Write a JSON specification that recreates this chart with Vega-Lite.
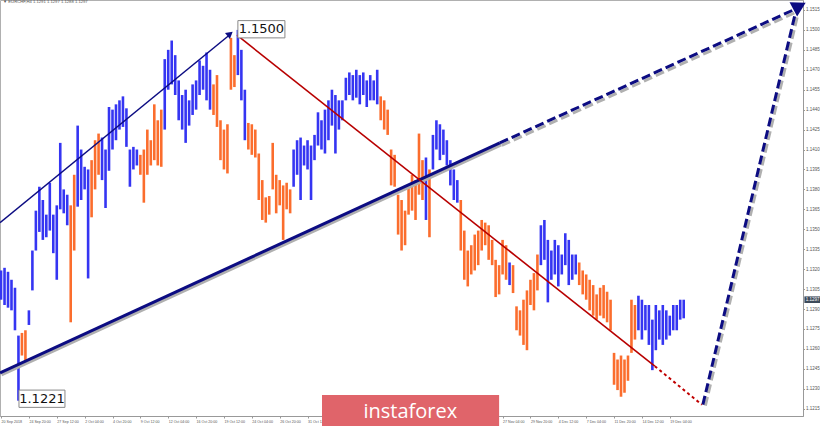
{
"$schema":"https://vega.github.io/schema/vega-lite/v6.json",
"width":803,"height":416,
"autosize":{"type":"none"},
"padding":{"left":0,"top":0,"right":17,"bottom":10},
"background":"white",
"title":{"text":"▼ EURCHF,H4  1.1291 1.1297 1.1288 1.1297","anchor":"start","frame":"group","orient":"top","offset":-8,"dx":3,"fontSize":4.2,"fontWeight":"normal","color":"#555","font":"Liberation Sans","baseline":"bottom"},
"config":{"view":{"stroke":"#b0b0b0"},"axis":{"labelOverlap":false,"labelBound":false}},
"datasets":{
"bars":[
{"b":0,"h":1.1319,"l":1.1297,"c":"u"},{"b":2,"h":1.1321,"l":1.1293,"c":"u"},{"b":4,"h":1.1318,"l":1.1291,"c":"u"},{"b":6,"h":1.1312,"l":1.1289,"c":"u"},{"b":8,"h":1.1306,"l":1.1274,"c":"u"},{"b":10,"h":1.1270,"l":1.1221,"c":"u"},{"b":12,"h":1.1272,"l":1.1255,"c":"d"},{"b":14,"h":1.1274,"l":1.1250,"c":"d"},{"b":16,"h":1.1289,"l":1.1278,"c":"u"},{"b":18,"h":1.1334,"l":1.1304,"c":"u"},
{"b":20,"h":1.1364,"l":1.1334,"c":"u"},{"b":22,"h":1.1382,"l":1.1348,"c":"u"},{"b":24,"h":1.1372,"l":1.1342,"c":"u"},{"b":26,"h":1.1361,"l":1.1344,"c":"u"},{"b":28,"h":1.1385,"l":1.1349,"c":"u"},{"b":30,"h":1.1361,"l":1.1332,"c":"u"},{"b":32,"h":1.1368,"l":1.1312,"c":"u"},{"b":34,"h":1.1415,"l":1.1365,"c":"u"},{"b":36,"h":1.1380,"l":1.1362,"c":"u"},{"b":38,"h":1.1376,"l":1.1353,"c":"u"},
{"b":40,"h":1.1368,"l":1.1280,"c":"d"},{"b":42,"h":1.1391,"l":1.1334,"c":"d"},{"b":44,"h":1.1428,"l":1.1367,"c":"u"},{"b":46,"h":1.1410,"l":1.1372,"c":"u"},{"b":48,"h":1.1397,"l":1.1380,"c":"u"},{"b":50,"h":1.1395,"l":1.1313,"c":"u"},{"b":52,"h":1.1402,"l":1.1359,"c":"d"},{"b":54,"h":1.1417,"l":1.1380,"c":"d"},{"b":56,"h":1.1422,"l":1.1391,"c":"d"},{"b":58,"h":1.1419,"l":1.1387,"c":"u"},
{"b":60,"h":1.1410,"l":1.1366,"c":"u"},{"b":62,"h":1.1442,"l":1.1394,"c":"u"},{"b":64,"h":1.1440,"l":1.1410,"c":"u"},{"b":66,"h":1.1444,"l":1.1417,"c":"u"},{"b":68,"h":1.1447,"l":1.1425,"c":"u"},{"b":70,"h":1.1450,"l":1.1427,"c":"u"},{"b":72,"h":1.1441,"l":1.1412,"c":"u"},{"b":74,"h":1.1410,"l":1.1382,"c":"u"},{"b":76,"h":1.1412,"l":1.1395,"c":"u"},{"b":78,"h":1.1410,"l":1.1398,"c":"u"},
{"b":80,"h":1.1406,"l":1.1391,"c":"d"},{"b":82,"h":1.1410,"l":1.1370,"c":"d"},{"b":84,"h":1.1425,"l":1.1391,"c":"d"},{"b":86,"h":1.1417,"l":1.1398,"c":"d"},{"b":88,"h":1.1444,"l":1.1402,"c":"d"},{"b":90,"h":1.1432,"l":1.1398,"c":"d"},{"b":92,"h":1.1440,"l":1.1397,"c":"d"},{"b":94,"h":1.1478,"l":1.1425,"c":"u"},{"b":96,"h":1.1485,"l":1.1455,"c":"u"},{"b":98,"h":1.1492,"l":1.1459,"c":"u"},
{"b":100,"h":1.1481,"l":1.1451,"c":"u"},{"b":102,"h":1.1462,"l":1.1432,"c":"u"},{"b":104,"h":1.1451,"l":1.1425,"c":"u"},{"b":106,"h":1.1455,"l":1.1415,"c":"u"},{"b":108,"h":1.1447,"l":1.1428,"c":"u"},{"b":110,"h":1.1459,"l":1.1436,"c":"u"},{"b":112,"h":1.1462,"l":1.1440,"c":"u"},{"b":114,"h":1.1477,"l":1.1451,"c":"u"},{"b":116,"h":1.1473,"l":1.1455,"c":"u"},{"b":118,"h":1.1483,"l":1.1447,"c":"u"},
{"b":120,"h":1.1470,"l":1.1440,"c":"u"},{"b":122,"h":1.1459,"l":1.1436,"c":"d"},{"b":124,"h":1.1466,"l":1.1427,"c":"d"},{"b":126,"h":1.1432,"l":1.1402,"c":"d"},{"b":128,"h":1.1425,"l":1.1395,"c":"d"},{"b":130,"h":1.1429,"l":1.1392,"c":"d"},{"b":132,"h":1.1494,"l":1.1455,"c":"d"},{"b":134,"h":1.1481,"l":1.1457,"c":"d"},{"b":136,"h":1.1500,"l":1.1466,"c":"u"},{"b":138,"h":1.1485,"l":1.1447,"c":"u"},
{"b":140,"h":1.1455,"l":1.1417,"c":"u"},{"b":142,"h":1.1430,"l":1.1410,"c":"d"},{"b":144,"h":1.1429,"l":1.1406,"c":"d"},{"b":146,"h":1.1425,"l":1.1404,"c":"d"},{"b":148,"h":1.1407,"l":1.1372,"c":"d"},{"b":150,"h":1.1387,"l":1.1357,"c":"d"},{"b":152,"h":1.1374,"l":1.1355,"c":"d"},{"b":154,"h":1.1375,"l":1.1361,"c":"d"},{"b":156,"h":1.1415,"l":1.1380,"c":"d"},{"b":158,"h":1.1391,"l":1.1362,"c":"d"},
{"b":160,"h":1.1387,"l":1.1368,"c":"d"},{"b":162,"h":1.1383,"l":1.1342,"c":"d"},{"b":164,"h":1.1385,"l":1.1365,"c":"d"},{"b":166,"h":1.1380,"l":1.1362,"c":"d"},{"b":168,"h":1.1410,"l":1.1382,"c":"u"},{"b":170,"h":1.1417,"l":1.1391,"c":"u"},{"b":172,"h":1.1419,"l":1.1372,"c":"u"},{"b":174,"h":1.1413,"l":1.1398,"c":"u"},{"b":176,"h":1.1417,"l":1.1395,"c":"u"},{"b":178,"h":1.1413,"l":1.1372,"c":"u"},
{"b":180,"h":1.1421,"l":1.1402,"c":"u"},{"b":182,"h":1.1438,"l":1.1413,"c":"u"},{"b":184,"h":1.1432,"l":1.1410,"c":"u"},{"b":186,"h":1.1440,"l":1.1407,"c":"u"},{"b":188,"h":1.1447,"l":1.1417,"c":"u"},{"b":190,"h":1.1455,"l":1.1428,"c":"u"},{"b":192,"h":1.1451,"l":1.1407,"c":"u"},{"b":194,"h":1.1447,"l":1.1425,"c":"u"},{"b":196,"h":1.1447,"l":1.1432,"c":"u"},{"b":198,"h":1.1464,"l":1.1447,"c":"u"},
{"b":200,"h":1.1468,"l":1.1451,"c":"u"},{"b":202,"h":1.1466,"l":1.1447,"c":"u"},{"b":204,"h":1.1470,"l":1.1449,"c":"u"},{"b":206,"h":1.1466,"l":1.1444,"c":"u"},{"b":208,"h":1.1468,"l":1.1451,"c":"u"},{"b":210,"h":1.1462,"l":1.1442,"c":"u"},{"b":212,"h":1.1466,"l":1.1447,"c":"u"},{"b":214,"h":1.1462,"l":1.1447,"c":"u"},{"b":216,"h":1.1470,"l":1.1444,"c":"u"},{"b":218,"h":1.1450,"l":1.1432,"c":"d"},
{"b":220,"h":1.1447,"l":1.1425,"c":"d"},{"b":222,"h":1.1440,"l":1.1421,"c":"d"},{"b":224,"h":1.1410,"l":1.1383,"c":"d"},{"b":226,"h":1.1406,"l":1.1382,"c":"d"},{"b":228,"h":1.1376,"l":1.1346,"c":"d"},{"b":230,"h":1.1372,"l":1.1334,"c":"d"},{"b":232,"h":1.1364,"l":1.1338,"c":"d"},{"b":234,"h":1.1383,"l":1.1361,"c":"d"},{"b":236,"h":1.1391,"l":1.1364,"c":"d"},{"b":238,"h":1.1387,"l":1.1357,"c":"d"},
{"b":240,"h":1.1422,"l":1.1376,"c":"d"},{"b":242,"h":1.1402,"l":1.1372,"c":"d"},{"b":244,"h":1.1404,"l":1.1357,"c":"u"},{"b":246,"h":1.1395,"l":1.1344,"c":"d"},{"b":248,"h":1.1421,"l":1.1395,"c":"u"},{"b":250,"h":1.1432,"l":1.1410,"c":"u"},{"b":252,"h":1.1429,"l":1.1402,"c":"u"},{"b":254,"h":1.1425,"l":1.1406,"c":"u"},{"b":256,"h":1.1417,"l":1.1398,"c":"u"},{"b":258,"h":1.1402,"l":1.1383,"c":"u"},
{"b":260,"h":1.1395,"l":1.1372,"c":"u"},{"b":262,"h":1.1387,"l":1.1370,"c":"u"},{"b":264,"h":1.1372,"l":1.1334,"c":"d"},{"b":266,"h":1.1349,"l":1.1312,"c":"d"},{"b":268,"h":1.1334,"l":1.1307,"c":"d"},{"b":270,"h":1.1338,"l":1.1316,"c":"d"},{"b":272,"h":1.1346,"l":1.1319,"c":"d"},{"b":274,"h":1.1349,"l":1.1323,"c":"d"},{"b":276,"h":1.1357,"l":1.1334,"c":"d"},{"b":278,"h":1.1355,"l":1.1338,"c":"d"},
{"b":280,"h":1.1353,"l":1.1327,"c":"d"},{"b":282,"h":1.1342,"l":1.1323,"c":"d"},{"b":284,"h":1.1327,"l":1.1299,"c":"d"},{"b":286,"h":1.1323,"l":1.1301,"c":"d"},{"b":288,"h":1.1342,"l":1.1316,"c":"d"},{"b":290,"h":1.1338,"l":1.1312,"c":"d"},{"b":292,"h":1.1325,"l":1.1308,"c":"u"},{"b":294,"h":1.1323,"l":1.1302,"c":"d"},{"b":296,"h":1.1292,"l":1.1274,"c":"d"},{"b":298,"h":1.1289,"l":1.1270,"c":"d"},
{"b":300,"h":1.1297,"l":1.1263,"c":"d"},{"b":302,"h":1.1304,"l":1.1259,"c":"d"},{"b":304,"h":1.1312,"l":1.1293,"c":"d"},{"b":306,"h":1.1317,"l":1.1289,"c":"d"},{"b":308,"h":1.1331,"l":1.1304,"c":"d"},{"b":310,"h":1.1353,"l":1.1323,"c":"u"},{"b":312,"h":1.1357,"l":1.1327,"c":"u"},{"b":314,"h":1.1342,"l":1.1295,"c":"u"},{"b":316,"h":1.1334,"l":1.1312,"c":"u"},{"b":318,"h":1.1342,"l":1.1316,"c":"u"},
{"b":320,"h":1.1338,"l":1.1307,"c":"u"},{"b":322,"h":1.1331,"l":1.1316,"c":"u"},{"b":324,"h":1.1347,"l":1.1323,"c":"u"},{"b":326,"h":1.1342,"l":1.1308,"c":"u"},{"b":328,"h":1.1331,"l":1.1312,"c":"u"},{"b":330,"h":1.1331,"l":1.1316,"c":"u"},{"b":332,"h":1.1325,"l":1.1308,"c":"d"},{"b":334,"h":1.1319,"l":1.1301,"c":"d"},{"b":336,"h":1.1316,"l":1.1297,"c":"d"},{"b":338,"h":1.1312,"l":1.1289,"c":"d"},
{"b":340,"h":1.1308,"l":1.1285,"c":"d"},{"b":342,"h":1.1301,"l":1.1282,"c":"d"},{"b":344,"h":1.1306,"l":1.1285,"c":"d"},{"b":346,"h":1.1308,"l":1.1283,"c":"d"},{"b":348,"h":1.1303,"l":1.1280,"c":"d"},{"b":350,"h":1.1297,"l":1.1274,"c":"d"},{"b":352,"h":1.1257,"l":1.1233,"c":"d"},{"b":354,"h":1.1252,"l":1.1229,"c":"d"},{"b":356,"h":1.1255,"l":1.1224,"c":"d"},{"b":358,"h":1.1252,"l":1.1227,"c":"d"},
{"b":360,"h":1.1255,"l":1.1236,"c":"d"},{"b":362,"h":1.1297,"l":1.1257,"c":"d"},{"b":364,"h":1.1293,"l":1.1267,"c":"d"},{"b":366,"h":1.1300,"l":1.1274,"c":"u"},{"b":368,"h":1.1297,"l":1.1267,"c":"u"},{"b":370,"h":1.1293,"l":1.1274,"c":"u"},{"b":372,"h":1.1293,"l":1.1263,"c":"u"},{"b":374,"h":1.1282,"l":1.1244,"c":"u"},{"b":376,"h":1.1293,"l":1.1259,"c":"u"},{"b":378,"h":1.1289,"l":1.1267,"c":"u"},
{"b":380,"h":1.1293,"l":1.1263,"c":"u"},{"b":382,"h":1.1289,"l":1.1267,"c":"u"},{"b":384,"h":1.1285,"l":1.1270,"c":"u"},{"b":386,"h":1.1293,"l":1.1274,"c":"u"},{"b":388,"h":1.1293,"l":1.1274,"c":"u"},{"b":390,"h":1.1297,"l":1.1282,"c":"u"},{"b":392,"h":1.1297,"l":1.1283,"c":"u"}
],
"lines":[
{"s":"up","b":-0.6,"p":1.1355},{"s":"up","b":131,"p":1.1496},
{"s":"tr","b":-0.6,"p":1.1242},{"s":"tr","b":286.4,"p":1.1415},
{"s":"trd","b":286.4,"p":1.1415},{"s":"trd","b":455,"p":1.1515},
{"s":"st","b":403,"p":1.1218},{"s":"st","b":456,"p":1.1512},
{"s":"rd","b":135.5,"p":1.1496},{"s":"rd","b":375.4,"p":1.1247},
{"s":"rdd","b":375.4,"p":1.1247},{"s":"rdd","b":402.4,"p":1.1218}
],
"boxes":[
{"b1":136,"b2":163,"p1":1.1494,"p2":1.1507,"t":"1.1500","bt":149.5,"pt":1.15005},
{"b1":10.3,"b2":36.7,"p1":1.1216,"p2":1.1229,"t":"1.1221","bt":23.5,"pt":1.12225}
],
"wm":[{"b1":184.3,"b2":286,"p1":1.1195,"p2":1.12253,"t":"instaforex","bt":235,"pt":1.12125}],
"tag":[{"b1":461.3,"b2":471,"p1":1.12945,"p2":1.12995,"t":"1.1297","bt":466,"pt":1.1297}]
},
"layer":[
{"data":{"name":"bars"},"mark":{"type":"rule","strokeWidth":2.6},
"encoding":{
"x":{"field":"b","type":"quantitative","title":null,"scale":{"domain":[-0.6,460.5],"nice":false,"zero":false},
"axis":{"values":[0,16,32,48,64,80,96,112,128,144,160,176,192,208,224,240,256,272,288,304,320,336,352,368,384],"tickCount":100,
"labelExpr":"['20 Sep 2018','24 Sep 20:00','27 Sep 12:00','2 Oct 04:00','4 Oct 20:00','9 Oct 12:00','12 Oct 04:00','16 Oct 20:00','19 Oct 12:00','24 Oct 04:00','26 Oct 20:00','31 Oct 12:00','5 Nov 04:00','7 Nov 20:00','12 Nov 12:00','15 Nov 04:00','19 Nov 20:00','22 Nov 12:00','27 Nov 04:00','29 Nov 20:00','4 Dec 12:00','7 Dec 04:00','11 Dec 20:00','14 Dec 12:00','19 Dec 04:00'][round(datum.value/16)]",
"labelAlign":"left","labelFontSize":3.6,"labelColor":"#555","labelFont":"Liberation Sans","labelPadding":1.5,"tickSize":2,"tickColor":"#999","domainColor":"#999","grid":false,"labelFlush":false,"labelOverlap":false}},
"y":{"field":"l","type":"quantitative","title":null,"scale":{"domain":[1.12095,1.15225],"nice":false,"zero":false},
"axis":{"orient":"right","values":[1.1215,1.123,1.1245,1.126,1.1275,1.129,1.1305,1.132,1.1335,1.135,1.1365,1.138,1.1395,1.141,1.1425,1.144,1.1455,1.147,1.1485,1.15,1.1515],"tickCount":100,"format":".4f","labelFontSize":4.5,"labelColor":"#555","labelFont":"Liberation Sans","tickSize":1.5,"tickColor":"#999","labelPadding":1,"domainColor":"#999","grid":false,"labelOverlap":false}},
"y2":{"field":"h"},
"color":{"field":"c","type":"nominal","scale":{"domain":["u","d"],"range":["#3535f2","#fb6d2d"]},"legend":null}}},
{"data":{"name":"lines"},"transform":[{"filter":"datum.s=='trd'"}],"mark":{"type":"line","color":"#b0b0b0","strokeWidth":3,"strokeDash":[9,4],"xOffset":2,"yOffset":2.5},
"encoding":{"x":{"field":"b","type":"quantitative","title":null},"y":{"field":"p","type":"quantitative","title":null}}},
{"data":{"name":"lines"},"transform":[{"filter":"datum.s=='st'"}],"mark":{"type":"line","color":"#b0b0b0","strokeWidth":3,"strokeDash":[9,4],"xOffset":2.5,"yOffset":1},
"encoding":{"x":{"field":"b","type":"quantitative","title":null},"y":{"field":"p","type":"quantitative","title":null}}},
{"data":{"name":"lines"},"transform":[{"filter":"datum.s=='tr'"}],"mark":{"type":"line","color":"#b0b0b0","strokeWidth":3,"xOffset":1.5,"yOffset":2},
"encoding":{"x":{"field":"b","type":"quantitative","title":null},"y":{"field":"p","type":"quantitative","title":null}}},
{"data":{"name":"lines"},"transform":[{"filter":"datum.s=='up'"}],"mark":{"type":"line","color":"#0c0c82","strokeWidth":1.5},
"encoding":{"x":{"field":"b","type":"quantitative","title":null},"y":{"field":"p","type":"quantitative","title":null}}},
{"data":{"name":"lines"},"transform":[{"filter":"datum.s=='tr'"}],"mark":{"type":"line","color":"#0c0c82","strokeWidth":3},
"encoding":{"x":{"field":"b","type":"quantitative","title":null},"y":{"field":"p","type":"quantitative","title":null}}},
{"data":{"name":"lines"},"transform":[{"filter":"datum.s=='trd' || datum.s=='st'"}],"mark":{"type":"line","color":"#0c0c82","strokeWidth":3,"strokeDash":[9,4]},
"encoding":{"x":{"field":"b","type":"quantitative","title":null},"y":{"field":"p","type":"quantitative","title":null},"detail":{"field":"s"}}},
{"data":{"name":"lines"},"transform":[{"filter":"datum.s=='rd'"}],"mark":{"type":"line","color":"#b80000","strokeWidth":1.6},
"encoding":{"x":{"field":"b","type":"quantitative","title":null},"y":{"field":"p","type":"quantitative","title":null}}},
{"data":{"name":"lines"},"transform":[{"filter":"datum.s=='rdd'"}],"mark":{"type":"line","color":"#c00000","strokeWidth":2,"strokeDash":[3,3]},
"encoding":{"x":{"field":"b","type":"quantitative","title":null},"y":{"field":"p","type":"quantitative","title":null}}},
{"data":{"values":[{"b":458.5,"p":1.1518}]},"mark":{"type":"point","shape":"triangle-right","filled":true,"color":"#0c0c82","opacity":1,"size":260,"angle":332},
"encoding":{"x":{"field":"b","type":"quantitative","title":null},"y":{"field":"p","type":"quantitative","title":null}}},
{"data":{"values":[{"b":131.5,"p":1.1497}]},"mark":{"type":"point","shape":"triangle-right","filled":true,"color":"#0c0c82","opacity":1,"size":60,"angle":321},
"encoding":{"x":{"field":"b","type":"quantitative","title":null},"y":{"field":"p","type":"quantitative","title":null}}},
{"data":{"name":"boxes"},"mark":{"type":"rect","fill":"white","stroke":"#888","strokeWidth":1},
"encoding":{"x":{"field":"b1","type":"quantitative","title":null},"x2":{"field":"b2"},"y":{"field":"p1","type":"quantitative","title":null},"y2":{"field":"p2"}}},
{"data":{"name":"boxes"},"mark":{"type":"text","fontSize":13,"font":"DejaVu Sans","color":"#111","align":"center","baseline":"middle"},
"encoding":{"x":{"field":"bt","type":"quantitative","title":null},"y":{"field":"pt","type":"quantitative","title":null},"text":{"field":"t"}}},
{"data":{"name":"wm"},"mark":{"type":"rect","fill":"#e0646a","clip":false},
"encoding":{"x":{"field":"b1","type":"quantitative","title":null},"x2":{"field":"b2"},"y":{"field":"p1","type":"quantitative","title":null},"y2":{"field":"p2"}}},
{"data":{"name":"wm"},"mark":{"type":"text","fontSize":20,"font":"Open Sans","color":"white","align":"center","baseline":"middle"},
"encoding":{"x":{"field":"bt","type":"quantitative","title":null},"y":{"field":"pt","type":"quantitative","title":null},"text":{"field":"t"}}},
{"data":{"name":"tag"},"mark":{"type":"rect","fill":"#3e4b5b"},
"encoding":{"x":{"field":"b1","type":"quantitative","title":null},"x2":{"field":"b2"},"y":{"field":"p1","type":"quantitative","title":null},"y2":{"field":"p2"}}},
{"data":{"name":"tag"},"mark":{"type":"text","fontSize":4.5,"font":"Liberation Sans","color":"white","align":"center","baseline":"middle"},
"encoding":{"x":{"field":"bt","type":"quantitative","title":null},"y":{"field":"pt","type":"quantitative","title":null},"text":{"field":"t"}}}
]
}
